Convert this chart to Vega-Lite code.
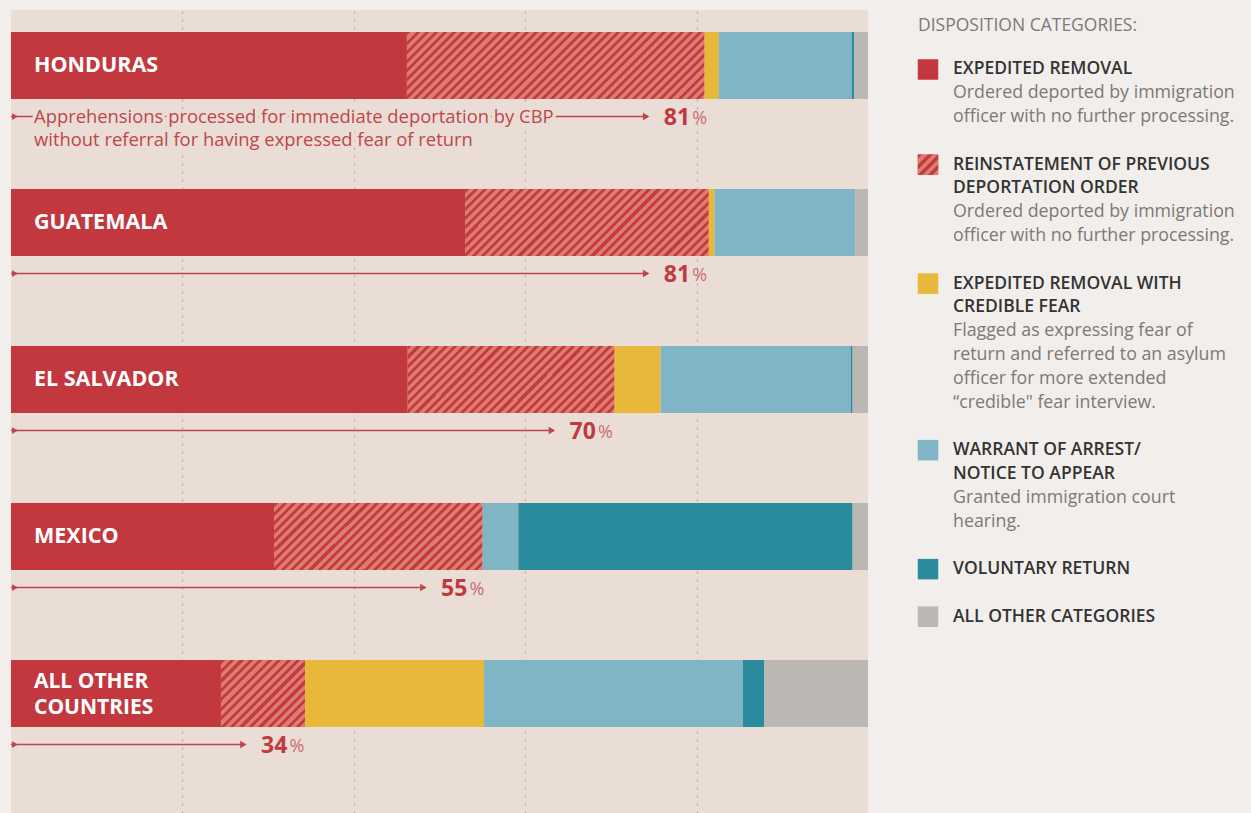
{
  "$schema": "https://vega.github.io/schema/vega-lite/v6.json",
  "background": "#f2eeeb",
  "padding": {"left": 10, "top": 10, "right": 0, "bottom": 0},
  "spacing": 13,
  "config": {"view": {"stroke": null}, "font": "Open Sans"},
  "datasets": {
    "bars": [
      {"country": "HONDURAS", "category": "Expedited removal", "pct": 46.2},
      {"country": "HONDURAS", "category": "Reinstatement", "pct": 34.7},
      {"country": "HONDURAS", "category": "Credible fear", "pct": 1.7},
      {"country": "HONDURAS", "category": "Warrant/NTA", "pct": 15.5},
      {"country": "HONDURAS", "category": "Voluntary return", "pct": 0.3},
      {"country": "HONDURAS", "category": "Other", "pct": 1.6},
      {"country": "GUATEMALA", "category": "Expedited removal", "pct": 53.0},
      {"country": "GUATEMALA", "category": "Reinstatement", "pct": 28.4},
      {"country": "GUATEMALA", "category": "Credible fear", "pct": 0.7},
      {"country": "GUATEMALA", "category": "Warrant/NTA", "pct": 16.4},
      {"country": "GUATEMALA", "category": "Other", "pct": 1.5},
      {"country": "EL SALVADOR", "category": "Expedited removal", "pct": 46.3},
      {"country": "EL SALVADOR", "category": "Reinstatement", "pct": 24.1},
      {"country": "EL SALVADOR", "category": "Credible fear", "pct": 5.4},
      {"country": "EL SALVADOR", "category": "Warrant/NTA", "pct": 22.2},
      {"country": "EL SALVADOR", "category": "Voluntary return", "pct": 0.2},
      {"country": "EL SALVADOR", "category": "Other", "pct": 1.8},
      {"country": "MEXICO", "category": "Expedited removal", "pct": 30.7},
      {"country": "MEXICO", "category": "Reinstatement", "pct": 24.3},
      {"country": "MEXICO", "category": "Warrant/NTA", "pct": 4.2},
      {"country": "MEXICO", "category": "Voluntary return", "pct": 39.0},
      {"country": "MEXICO", "category": "Other", "pct": 1.8},
      {"country": "ALL OTHER COUNTRIES", "category": "Expedited removal", "pct": 24.5},
      {"country": "ALL OTHER COUNTRIES", "category": "Reinstatement", "pct": 9.8},
      {"country": "ALL OTHER COUNTRIES", "category": "Credible fear", "pct": 20.9},
      {"country": "ALL OTHER COUNTRIES", "category": "Warrant/NTA", "pct": 30.2},
      {"country": "ALL OTHER COUNTRIES", "category": "Voluntary return", "pct": 2.5},
      {"country": "ALL OTHER COUNTRIES", "category": "Other", "pct": 12.1}
    ],
    "notes": [
      {"country": "HONDURAS", "label": "HONDURAS", "share": 81},
      {"country": "GUATEMALA", "label": "GUATEMALA", "share": 81},
      {"country": "EL SALVADOR", "label": "EL SALVADOR", "share": 70},
      {"country": "MEXICO", "label": "MEXICO", "share": 55},
      {"country": "ALL OTHER COUNTRIES", "label": "ALL OTHER\nCOUNTRIES", "share": 34}
    ],
    "legend": [
      {"line": -2, "kind": "header", "text": "DISPOSITION CATEGORIES:"},
      {"line": 0, "kind": "title", "text": "EXPEDITED REMOVAL", "category": "Expedited removal"},
      {"line": 1, "kind": "desc", "text": "Ordered deported by immigration"},
      {"line": 2, "kind": "desc", "text": "officer with no further processing."},
      {"line": 4, "kind": "title", "text": "REINSTATEMENT OF PREVIOUS", "category": "Reinstatement"},
      {"line": 5, "kind": "title", "text": "DEPORTATION ORDER"},
      {"line": 6, "kind": "desc", "text": "Ordered deported by immigration"},
      {"line": 7, "kind": "desc", "text": "officer with no further processing."},
      {"line": 9, "kind": "title", "text": "EXPEDITED REMOVAL WITH", "category": "Credible fear"},
      {"line": 10, "kind": "title", "text": "CREDIBLE FEAR"},
      {"line": 11, "kind": "desc", "text": "Flagged as expressing fear of"},
      {"line": 12, "kind": "desc", "text": "return and referred to an asylum"},
      {"line": 13, "kind": "desc", "text": "officer for more extended"},
      {"line": 14, "kind": "desc", "text": "“credible\" fear interview."},
      {"line": 16, "kind": "title", "text": "WARRANT OF ARREST/", "category": "Warrant/NTA"},
      {"line": 17, "kind": "title", "text": "NOTICE TO APPEAR"},
      {"line": 18, "kind": "desc", "text": "Granted immigration court"},
      {"line": 19, "kind": "desc", "text": "hearing."},
      {"line": 21, "kind": "title", "text": "VOLUNTARY RETURN", "category": "Voluntary return"},
      {"line": 23, "kind": "title", "text": "ALL OTHER CATEGORIES", "category": "Other"}
    ]
  },
  "hconcat": [
    {
      "width": 857,
      "height": 803,
      "view": {"fill": "#e9ddd6", "stroke": null},
      "encoding": {
        "y": {
          "field": "country", "type": "nominal",
          "scale": {"domain": ["HONDURAS", "GUATEMALA", "EL SALVADOR", "MEXICO", "ALL OTHER COUNTRIES"], "paddingInner": 0.5732, "paddingOuter": 0.3439, "align": 0.204},
          "axis": null
        }
      },
      "layer": [
        {
          "data": {"name": "bars"},
          "transform": [
            {"calculate": "indexof(['Expedited removal','Reinstatement','Credible fear','Warrant/NTA','Voluntary return','Other'], datum.category)", "as": "k"},
            {"stack": "pct", "groupby": ["country"], "sort": [{"field": "k", "order": "ascending"}], "as": ["x0", "x1"]}
          ],
          "layer": [
            {
              "mark": {"type": "rect"},
              "encoding": {
                "x": {"field": "x0", "type": "quantitative", "scale": {"domain": [0, 100], "nice": false},
                  "axis": {"values": [20, 40, 60, 80], "grid": true, "gridDash": [2, 6], "gridColor": "#b3a6a1", "gridWidth": 1.2, "labels": false, "ticks": false, "domain": false, "title": null}},
                "x2": {"field": "x1"},
                "fill": {"field": "category", "type": "nominal",
                  "scale": {"domain": ["Expedited removal", "Reinstatement", "Credible fear", "Warrant/NTA", "Voluntary return", "Other"], "range": ["#c3373f", "#d97a6c", "#e7b83a", "#80b5c6", "#2a8b9c", "#bbb7b2"]},
                  "legend": null}
              }
            },
            {
              "transform": [{"filter": "datum.category === 'Reinstatement' && datum.country === 'HONDURAS'"}],
              "mark": {"type": "rect", "fill": {"gradient": "linear", "x1": 0, "y1": 0, "x2": 1.1661, "y2": 0.2627, "stops": [
{"offset":0,"color":"#c63a40"},{"offset":0.011,"color":"#c63a40"},{"offset":0.011,"color":"#db7d6e"},{"offset":0.025,"color":"#db7d6e"},
{"offset":0.025,"color":"#c63a40"},{"offset":0.036,"color":"#c63a40"},{"offset":0.036,"color":"#db7d6e"},{"offset":0.05,"color":"#db7d6e"},
{"offset":0.05,"color":"#c63a40"},{"offset":0.061,"color":"#c63a40"},{"offset":0.061,"color":"#db7d6e"},{"offset":0.075,"color":"#db7d6e"},
{"offset":0.075,"color":"#c63a40"},{"offset":0.086,"color":"#c63a40"},{"offset":0.086,"color":"#db7d6e"},{"offset":0.1,"color":"#db7d6e"},
{"offset":0.1,"color":"#c63a40"},{"offset":0.111,"color":"#c63a40"},{"offset":0.111,"color":"#db7d6e"},{"offset":0.125,"color":"#db7d6e"},
{"offset":0.125,"color":"#c63a40"},{"offset":0.136,"color":"#c63a40"},{"offset":0.136,"color":"#db7d6e"},{"offset":0.15,"color":"#db7d6e"},
{"offset":0.15,"color":"#c63a40"},{"offset":0.161,"color":"#c63a40"},{"offset":0.161,"color":"#db7d6e"},{"offset":0.175,"color":"#db7d6e"},
{"offset":0.175,"color":"#c63a40"},{"offset":0.186,"color":"#c63a40"},{"offset":0.186,"color":"#db7d6e"},{"offset":0.2,"color":"#db7d6e"},
{"offset":0.2,"color":"#c63a40"},{"offset":0.211,"color":"#c63a40"},{"offset":0.211,"color":"#db7d6e"},{"offset":0.225,"color":"#db7d6e"},
{"offset":0.225,"color":"#c63a40"},{"offset":0.236,"color":"#c63a40"},{"offset":0.236,"color":"#db7d6e"},{"offset":0.25,"color":"#db7d6e"},
{"offset":0.25,"color":"#c63a40"},{"offset":0.261,"color":"#c63a40"},{"offset":0.261,"color":"#db7d6e"},{"offset":0.275,"color":"#db7d6e"},
{"offset":0.275,"color":"#c63a40"},{"offset":0.286,"color":"#c63a40"},{"offset":0.286,"color":"#db7d6e"},{"offset":0.3,"color":"#db7d6e"},
{"offset":0.3,"color":"#c63a40"},{"offset":0.311,"color":"#c63a40"},{"offset":0.311,"color":"#db7d6e"},{"offset":0.325,"color":"#db7d6e"},
{"offset":0.325,"color":"#c63a40"},{"offset":0.336,"color":"#c63a40"},{"offset":0.336,"color":"#db7d6e"},{"offset":0.35,"color":"#db7d6e"},
{"offset":0.35,"color":"#c63a40"},{"offset":0.361,"color":"#c63a40"},{"offset":0.361,"color":"#db7d6e"},{"offset":0.375,"color":"#db7d6e"},
{"offset":0.375,"color":"#c63a40"},{"offset":0.386,"color":"#c63a40"},{"offset":0.386,"color":"#db7d6e"},{"offset":0.4,"color":"#db7d6e"},
{"offset":0.4,"color":"#c63a40"},{"offset":0.411,"color":"#c63a40"},{"offset":0.411,"color":"#db7d6e"},{"offset":0.425,"color":"#db7d6e"},
{"offset":0.425,"color":"#c63a40"},{"offset":0.436,"color":"#c63a40"},{"offset":0.436,"color":"#db7d6e"},{"offset":0.45,"color":"#db7d6e"},
{"offset":0.45,"color":"#c63a40"},{"offset":0.461,"color":"#c63a40"},{"offset":0.461,"color":"#db7d6e"},{"offset":0.475,"color":"#db7d6e"},
{"offset":0.475,"color":"#c63a40"},{"offset":0.486,"color":"#c63a40"},{"offset":0.486,"color":"#db7d6e"},{"offset":0.5,"color":"#db7d6e"},
{"offset":0.5,"color":"#c63a40"},{"offset":0.511,"color":"#c63a40"},{"offset":0.511,"color":"#db7d6e"},{"offset":0.525,"color":"#db7d6e"},
{"offset":0.525,"color":"#c63a40"},{"offset":0.536,"color":"#c63a40"},{"offset":0.536,"color":"#db7d6e"},{"offset":0.55,"color":"#db7d6e"},
{"offset":0.55,"color":"#c63a40"},{"offset":0.561,"color":"#c63a40"},{"offset":0.561,"color":"#db7d6e"},{"offset":0.575,"color":"#db7d6e"},
{"offset":0.575,"color":"#c63a40"},{"offset":0.586,"color":"#c63a40"},{"offset":0.586,"color":"#db7d6e"},{"offset":0.6,"color":"#db7d6e"},
{"offset":0.6,"color":"#c63a40"},{"offset":0.611,"color":"#c63a40"},{"offset":0.611,"color":"#db7d6e"},{"offset":0.625,"color":"#db7d6e"},
{"offset":0.625,"color":"#c63a40"},{"offset":0.636,"color":"#c63a40"},{"offset":0.636,"color":"#db7d6e"},{"offset":0.65,"color":"#db7d6e"},
{"offset":0.65,"color":"#c63a40"},{"offset":0.661,"color":"#c63a40"},{"offset":0.661,"color":"#db7d6e"},{"offset":0.675,"color":"#db7d6e"},
{"offset":0.675,"color":"#c63a40"},{"offset":0.686,"color":"#c63a40"},{"offset":0.686,"color":"#db7d6e"},{"offset":0.7,"color":"#db7d6e"},
{"offset":0.7,"color":"#c63a40"},{"offset":0.711,"color":"#c63a40"},{"offset":0.711,"color":"#db7d6e"},{"offset":0.725,"color":"#db7d6e"},
{"offset":0.725,"color":"#c63a40"},{"offset":0.736,"color":"#c63a40"},{"offset":0.736,"color":"#db7d6e"},{"offset":0.75,"color":"#db7d6e"},
{"offset":0.75,"color":"#c63a40"},{"offset":0.761,"color":"#c63a40"},{"offset":0.761,"color":"#db7d6e"},{"offset":0.775,"color":"#db7d6e"},
{"offset":0.775,"color":"#c63a40"},{"offset":0.786,"color":"#c63a40"},{"offset":0.786,"color":"#db7d6e"},{"offset":0.8,"color":"#db7d6e"},
{"offset":0.8,"color":"#c63a40"},{"offset":0.811,"color":"#c63a40"},{"offset":0.811,"color":"#db7d6e"},{"offset":0.825,"color":"#db7d6e"},
{"offset":0.825,"color":"#c63a40"},{"offset":0.836,"color":"#c63a40"},{"offset":0.836,"color":"#db7d6e"},{"offset":0.85,"color":"#db7d6e"},
{"offset":0.85,"color":"#c63a40"},{"offset":0.861,"color":"#c63a40"},{"offset":0.861,"color":"#db7d6e"},{"offset":0.875,"color":"#db7d6e"},
{"offset":0.875,"color":"#c63a40"},{"offset":0.886,"color":"#c63a40"},{"offset":0.886,"color":"#db7d6e"},{"offset":0.9,"color":"#db7d6e"},
{"offset":0.9,"color":"#c63a40"},{"offset":0.911,"color":"#c63a40"},{"offset":0.911,"color":"#db7d6e"},{"offset":0.925,"color":"#db7d6e"},
{"offset":0.925,"color":"#c63a40"},{"offset":0.936,"color":"#c63a40"},{"offset":0.936,"color":"#db7d6e"},{"offset":0.95,"color":"#db7d6e"},
{"offset":0.95,"color":"#c63a40"},{"offset":0.961,"color":"#c63a40"},{"offset":0.961,"color":"#db7d6e"},{"offset":0.975,"color":"#db7d6e"},
{"offset":0.975,"color":"#c63a40"},{"offset":0.986,"color":"#c63a40"},{"offset":0.986,"color":"#db7d6e"},{"offset":1,"color":"#db7d6e"}
              ]}},
              "encoding": {
                "x": {"field": "x0", "type": "quantitative", "scale": {"domain": [0, 100], "nice": false},
                  "axis": {"values": [20, 40, 60, 80], "grid": true, "gridDash": [2, 6], "gridColor": "#b3a6a1", "gridWidth": 1.2, "labels": false, "ticks": false, "domain": false, "title": null}},
                "x2": {"field": "x1"}
              }
            },
            {
              "transform": [{"filter": "datum.category === 'Reinstatement' && datum.country === 'GUATEMALA'"}],
              "mark": {"type": "rect", "fill": {"gradient": "linear", "x1": 0, "y1": 0, "x2": 1.1854, "y2": 0.3263, "stops": [
{"offset":0,"color":"#c63a40"},{"offset":0.0132,"color":"#c63a40"},{"offset":0.0132,"color":"#db7d6e"},{"offset":0.0294,"color":"#db7d6e"},
{"offset":0.0294,"color":"#c63a40"},{"offset":0.0426,"color":"#c63a40"},{"offset":0.0426,"color":"#db7d6e"},{"offset":0.0588,"color":"#db7d6e"},
{"offset":0.0588,"color":"#c63a40"},{"offset":0.0721,"color":"#c63a40"},{"offset":0.0721,"color":"#db7d6e"},{"offset":0.0882,"color":"#db7d6e"},
{"offset":0.0882,"color":"#c63a40"},{"offset":0.1015,"color":"#c63a40"},{"offset":0.1015,"color":"#db7d6e"},{"offset":0.1176,"color":"#db7d6e"},
{"offset":0.1176,"color":"#c63a40"},{"offset":0.1309,"color":"#c63a40"},{"offset":0.1309,"color":"#db7d6e"},{"offset":0.1471,"color":"#db7d6e"},
{"offset":0.1471,"color":"#c63a40"},{"offset":0.1603,"color":"#c63a40"},{"offset":0.1603,"color":"#db7d6e"},{"offset":0.1765,"color":"#db7d6e"},
{"offset":0.1765,"color":"#c63a40"},{"offset":0.1897,"color":"#c63a40"},{"offset":0.1897,"color":"#db7d6e"},{"offset":0.2059,"color":"#db7d6e"},
{"offset":0.2059,"color":"#c63a40"},{"offset":0.2191,"color":"#c63a40"},{"offset":0.2191,"color":"#db7d6e"},{"offset":0.2353,"color":"#db7d6e"},
{"offset":0.2353,"color":"#c63a40"},{"offset":0.2485,"color":"#c63a40"},{"offset":0.2485,"color":"#db7d6e"},{"offset":0.2647,"color":"#db7d6e"},
{"offset":0.2647,"color":"#c63a40"},{"offset":0.2779,"color":"#c63a40"},{"offset":0.2779,"color":"#db7d6e"},{"offset":0.2941,"color":"#db7d6e"},
{"offset":0.2941,"color":"#c63a40"},{"offset":0.3074,"color":"#c63a40"},{"offset":0.3074,"color":"#db7d6e"},{"offset":0.3235,"color":"#db7d6e"},
{"offset":0.3235,"color":"#c63a40"},{"offset":0.3368,"color":"#c63a40"},{"offset":0.3368,"color":"#db7d6e"},{"offset":0.3529,"color":"#db7d6e"},
{"offset":0.3529,"color":"#c63a40"},{"offset":0.3662,"color":"#c63a40"},{"offset":0.3662,"color":"#db7d6e"},{"offset":0.3824,"color":"#db7d6e"},
{"offset":0.3824,"color":"#c63a40"},{"offset":0.3956,"color":"#c63a40"},{"offset":0.3956,"color":"#db7d6e"},{"offset":0.4118,"color":"#db7d6e"},
{"offset":0.4118,"color":"#c63a40"},{"offset":0.425,"color":"#c63a40"},{"offset":0.425,"color":"#db7d6e"},{"offset":0.4412,"color":"#db7d6e"},
{"offset":0.4412,"color":"#c63a40"},{"offset":0.4544,"color":"#c63a40"},{"offset":0.4544,"color":"#db7d6e"},{"offset":0.4706,"color":"#db7d6e"},
{"offset":0.4706,"color":"#c63a40"},{"offset":0.4838,"color":"#c63a40"},{"offset":0.4838,"color":"#db7d6e"},{"offset":0.5,"color":"#db7d6e"},
{"offset":0.5,"color":"#c63a40"},{"offset":0.5132,"color":"#c63a40"},{"offset":0.5132,"color":"#db7d6e"},{"offset":0.5294,"color":"#db7d6e"},
{"offset":0.5294,"color":"#c63a40"},{"offset":0.5426,"color":"#c63a40"},{"offset":0.5426,"color":"#db7d6e"},{"offset":0.5588,"color":"#db7d6e"},
{"offset":0.5588,"color":"#c63a40"},{"offset":0.5721,"color":"#c63a40"},{"offset":0.5721,"color":"#db7d6e"},{"offset":0.5882,"color":"#db7d6e"},
{"offset":0.5882,"color":"#c63a40"},{"offset":0.6015,"color":"#c63a40"},{"offset":0.6015,"color":"#db7d6e"},{"offset":0.6176,"color":"#db7d6e"},
{"offset":0.6176,"color":"#c63a40"},{"offset":0.6309,"color":"#c63a40"},{"offset":0.6309,"color":"#db7d6e"},{"offset":0.6471,"color":"#db7d6e"},
{"offset":0.6471,"color":"#c63a40"},{"offset":0.6603,"color":"#c63a40"},{"offset":0.6603,"color":"#db7d6e"},{"offset":0.6765,"color":"#db7d6e"},
{"offset":0.6765,"color":"#c63a40"},{"offset":0.6897,"color":"#c63a40"},{"offset":0.6897,"color":"#db7d6e"},{"offset":0.7059,"color":"#db7d6e"},
{"offset":0.7059,"color":"#c63a40"},{"offset":0.7191,"color":"#c63a40"},{"offset":0.7191,"color":"#db7d6e"},{"offset":0.7353,"color":"#db7d6e"},
{"offset":0.7353,"color":"#c63a40"},{"offset":0.7485,"color":"#c63a40"},{"offset":0.7485,"color":"#db7d6e"},{"offset":0.7647,"color":"#db7d6e"},
{"offset":0.7647,"color":"#c63a40"},{"offset":0.7779,"color":"#c63a40"},{"offset":0.7779,"color":"#db7d6e"},{"offset":0.7941,"color":"#db7d6e"},
{"offset":0.7941,"color":"#c63a40"},{"offset":0.8074,"color":"#c63a40"},{"offset":0.8074,"color":"#db7d6e"},{"offset":0.8235,"color":"#db7d6e"},
{"offset":0.8235,"color":"#c63a40"},{"offset":0.8368,"color":"#c63a40"},{"offset":0.8368,"color":"#db7d6e"},{"offset":0.8529,"color":"#db7d6e"},
{"offset":0.8529,"color":"#c63a40"},{"offset":0.8662,"color":"#c63a40"},{"offset":0.8662,"color":"#db7d6e"},{"offset":0.8824,"color":"#db7d6e"},
{"offset":0.8824,"color":"#c63a40"},{"offset":0.8956,"color":"#c63a40"},{"offset":0.8956,"color":"#db7d6e"},{"offset":0.9118,"color":"#db7d6e"},
{"offset":0.9118,"color":"#c63a40"},{"offset":0.925,"color":"#c63a40"},{"offset":0.925,"color":"#db7d6e"},{"offset":0.9412,"color":"#db7d6e"},
{"offset":0.9412,"color":"#c63a40"},{"offset":0.9544,"color":"#c63a40"},{"offset":0.9544,"color":"#db7d6e"},{"offset":0.9706,"color":"#db7d6e"},
{"offset":0.9706,"color":"#c63a40"},{"offset":0.9838,"color":"#c63a40"},{"offset":0.9838,"color":"#db7d6e"},{"offset":1,"color":"#db7d6e"}
              ]}},
              "encoding": {
                "x": {"field": "x0", "type": "quantitative", "scale": {"domain": [0, 100], "nice": false},
                  "axis": {"values": [20, 40, 60, 80], "grid": true, "gridDash": [2, 6], "gridColor": "#b3a6a1", "gridWidth": 1.2, "labels": false, "ticks": false, "domain": false, "title": null}},
                "x2": {"field": "x1"}
              }
            },
            {
              "transform": [{"filter": "datum.category === 'Reinstatement' && (datum.country === 'EL SALVADOR' || datum.country === 'MEXICO')"}],
              "mark": {"type": "rect", "fill": {"gradient": "linear", "x1": 0, "y1": 0, "x2": 1.198, "y2": 0.3871, "stops": [
{"offset":0,"color":"#c63a40"},{"offset":0.015,"color":"#c63a40"},{"offset":0.015,"color":"#db7d6e"},{"offset":0.0333,"color":"#db7d6e"},
{"offset":0.0333,"color":"#c63a40"},{"offset":0.0483,"color":"#c63a40"},{"offset":0.0483,"color":"#db7d6e"},{"offset":0.0667,"color":"#db7d6e"},
{"offset":0.0667,"color":"#c63a40"},{"offset":0.0817,"color":"#c63a40"},{"offset":0.0817,"color":"#db7d6e"},{"offset":0.1,"color":"#db7d6e"},
{"offset":0.1,"color":"#c63a40"},{"offset":0.115,"color":"#c63a40"},{"offset":0.115,"color":"#db7d6e"},{"offset":0.1333,"color":"#db7d6e"},
{"offset":0.1333,"color":"#c63a40"},{"offset":0.1483,"color":"#c63a40"},{"offset":0.1483,"color":"#db7d6e"},{"offset":0.1667,"color":"#db7d6e"},
{"offset":0.1667,"color":"#c63a40"},{"offset":0.1817,"color":"#c63a40"},{"offset":0.1817,"color":"#db7d6e"},{"offset":0.2,"color":"#db7d6e"},
{"offset":0.2,"color":"#c63a40"},{"offset":0.215,"color":"#c63a40"},{"offset":0.215,"color":"#db7d6e"},{"offset":0.2333,"color":"#db7d6e"},
{"offset":0.2333,"color":"#c63a40"},{"offset":0.2483,"color":"#c63a40"},{"offset":0.2483,"color":"#db7d6e"},{"offset":0.2667,"color":"#db7d6e"},
{"offset":0.2667,"color":"#c63a40"},{"offset":0.2817,"color":"#c63a40"},{"offset":0.2817,"color":"#db7d6e"},{"offset":0.3,"color":"#db7d6e"},
{"offset":0.3,"color":"#c63a40"},{"offset":0.315,"color":"#c63a40"},{"offset":0.315,"color":"#db7d6e"},{"offset":0.3333,"color":"#db7d6e"},
{"offset":0.3333,"color":"#c63a40"},{"offset":0.3483,"color":"#c63a40"},{"offset":0.3483,"color":"#db7d6e"},{"offset":0.3667,"color":"#db7d6e"},
{"offset":0.3667,"color":"#c63a40"},{"offset":0.3817,"color":"#c63a40"},{"offset":0.3817,"color":"#db7d6e"},{"offset":0.4,"color":"#db7d6e"},
{"offset":0.4,"color":"#c63a40"},{"offset":0.415,"color":"#c63a40"},{"offset":0.415,"color":"#db7d6e"},{"offset":0.4333,"color":"#db7d6e"},
{"offset":0.4333,"color":"#c63a40"},{"offset":0.4483,"color":"#c63a40"},{"offset":0.4483,"color":"#db7d6e"},{"offset":0.4667,"color":"#db7d6e"},
{"offset":0.4667,"color":"#c63a40"},{"offset":0.4817,"color":"#c63a40"},{"offset":0.4817,"color":"#db7d6e"},{"offset":0.5,"color":"#db7d6e"},
{"offset":0.5,"color":"#c63a40"},{"offset":0.515,"color":"#c63a40"},{"offset":0.515,"color":"#db7d6e"},{"offset":0.5333,"color":"#db7d6e"},
{"offset":0.5333,"color":"#c63a40"},{"offset":0.5483,"color":"#c63a40"},{"offset":0.5483,"color":"#db7d6e"},{"offset":0.5667,"color":"#db7d6e"},
{"offset":0.5667,"color":"#c63a40"},{"offset":0.5817,"color":"#c63a40"},{"offset":0.5817,"color":"#db7d6e"},{"offset":0.6,"color":"#db7d6e"},
{"offset":0.6,"color":"#c63a40"},{"offset":0.615,"color":"#c63a40"},{"offset":0.615,"color":"#db7d6e"},{"offset":0.6333,"color":"#db7d6e"},
{"offset":0.6333,"color":"#c63a40"},{"offset":0.6483,"color":"#c63a40"},{"offset":0.6483,"color":"#db7d6e"},{"offset":0.6667,"color":"#db7d6e"},
{"offset":0.6667,"color":"#c63a40"},{"offset":0.6817,"color":"#c63a40"},{"offset":0.6817,"color":"#db7d6e"},{"offset":0.7,"color":"#db7d6e"},
{"offset":0.7,"color":"#c63a40"},{"offset":0.715,"color":"#c63a40"},{"offset":0.715,"color":"#db7d6e"},{"offset":0.7333,"color":"#db7d6e"},
{"offset":0.7333,"color":"#c63a40"},{"offset":0.7483,"color":"#c63a40"},{"offset":0.7483,"color":"#db7d6e"},{"offset":0.7667,"color":"#db7d6e"},
{"offset":0.7667,"color":"#c63a40"},{"offset":0.7817,"color":"#c63a40"},{"offset":0.7817,"color":"#db7d6e"},{"offset":0.8,"color":"#db7d6e"},
{"offset":0.8,"color":"#c63a40"},{"offset":0.815,"color":"#c63a40"},{"offset":0.815,"color":"#db7d6e"},{"offset":0.8333,"color":"#db7d6e"},
{"offset":0.8333,"color":"#c63a40"},{"offset":0.8483,"color":"#c63a40"},{"offset":0.8483,"color":"#db7d6e"},{"offset":0.8667,"color":"#db7d6e"},
{"offset":0.8667,"color":"#c63a40"},{"offset":0.8817,"color":"#c63a40"},{"offset":0.8817,"color":"#db7d6e"},{"offset":0.9,"color":"#db7d6e"},
{"offset":0.9,"color":"#c63a40"},{"offset":0.915,"color":"#c63a40"},{"offset":0.915,"color":"#db7d6e"},{"offset":0.9333,"color":"#db7d6e"},
{"offset":0.9333,"color":"#c63a40"},{"offset":0.9483,"color":"#c63a40"},{"offset":0.9483,"color":"#db7d6e"},{"offset":0.9667,"color":"#db7d6e"},
{"offset":0.9667,"color":"#c63a40"},{"offset":0.9817,"color":"#c63a40"},{"offset":0.9817,"color":"#db7d6e"},{"offset":1,"color":"#db7d6e"}
              ]}},
              "encoding": {
                "x": {"field": "x0", "type": "quantitative", "scale": {"domain": [0, 100], "nice": false},
                  "axis": {"values": [20, 40, 60, 80], "grid": true, "gridDash": [2, 6], "gridColor": "#b3a6a1", "gridWidth": 1.2, "labels": false, "ticks": false, "domain": false, "title": null}},
                "x2": {"field": "x1"}
              }
            },
            {
              "transform": [{"filter": "datum.category === 'Reinstatement' && datum.country === 'ALL OTHER COUNTRIES'"}],
              "mark": {"type": "rect", "fill": {"gradient": "linear", "x1": 0, "y1": 0, "x2": 1.0987, "y2": 0.8763, "stops": [
{"offset":0,"color":"#c63a40"},{"offset":0.0281,"color":"#c63a40"},{"offset":0.0281,"color":"#db7d6e"},{"offset":0.0625,"color":"#db7d6e"},
{"offset":0.0625,"color":"#c63a40"},{"offset":0.0906,"color":"#c63a40"},{"offset":0.0906,"color":"#db7d6e"},{"offset":0.125,"color":"#db7d6e"},
{"offset":0.125,"color":"#c63a40"},{"offset":0.1531,"color":"#c63a40"},{"offset":0.1531,"color":"#db7d6e"},{"offset":0.1875,"color":"#db7d6e"},
{"offset":0.1875,"color":"#c63a40"},{"offset":0.2156,"color":"#c63a40"},{"offset":0.2156,"color":"#db7d6e"},{"offset":0.25,"color":"#db7d6e"},
{"offset":0.25,"color":"#c63a40"},{"offset":0.2781,"color":"#c63a40"},{"offset":0.2781,"color":"#db7d6e"},{"offset":0.3125,"color":"#db7d6e"},
{"offset":0.3125,"color":"#c63a40"},{"offset":0.3406,"color":"#c63a40"},{"offset":0.3406,"color":"#db7d6e"},{"offset":0.375,"color":"#db7d6e"},
{"offset":0.375,"color":"#c63a40"},{"offset":0.4031,"color":"#c63a40"},{"offset":0.4031,"color":"#db7d6e"},{"offset":0.4375,"color":"#db7d6e"},
{"offset":0.4375,"color":"#c63a40"},{"offset":0.4656,"color":"#c63a40"},{"offset":0.4656,"color":"#db7d6e"},{"offset":0.5,"color":"#db7d6e"},
{"offset":0.5,"color":"#c63a40"},{"offset":0.5281,"color":"#c63a40"},{"offset":0.5281,"color":"#db7d6e"},{"offset":0.5625,"color":"#db7d6e"},
{"offset":0.5625,"color":"#c63a40"},{"offset":0.5906,"color":"#c63a40"},{"offset":0.5906,"color":"#db7d6e"},{"offset":0.625,"color":"#db7d6e"},
{"offset":0.625,"color":"#c63a40"},{"offset":0.6531,"color":"#c63a40"},{"offset":0.6531,"color":"#db7d6e"},{"offset":0.6875,"color":"#db7d6e"},
{"offset":0.6875,"color":"#c63a40"},{"offset":0.7156,"color":"#c63a40"},{"offset":0.7156,"color":"#db7d6e"},{"offset":0.75,"color":"#db7d6e"},
{"offset":0.75,"color":"#c63a40"},{"offset":0.7781,"color":"#c63a40"},{"offset":0.7781,"color":"#db7d6e"},{"offset":0.8125,"color":"#db7d6e"},
{"offset":0.8125,"color":"#c63a40"},{"offset":0.8406,"color":"#c63a40"},{"offset":0.8406,"color":"#db7d6e"},{"offset":0.875,"color":"#db7d6e"},
{"offset":0.875,"color":"#c63a40"},{"offset":0.9031,"color":"#c63a40"},{"offset":0.9031,"color":"#db7d6e"},{"offset":0.9375,"color":"#db7d6e"},
{"offset":0.9375,"color":"#c63a40"},{"offset":0.9656,"color":"#c63a40"},{"offset":0.9656,"color":"#db7d6e"},{"offset":1,"color":"#db7d6e"}
              ]}},
              "encoding": {
                "x": {"field": "x0", "type": "quantitative", "scale": {"domain": [0, 100], "nice": false},
                  "axis": {"values": [20, 40, 60, 80], "grid": true, "gridDash": [2, 6], "gridColor": "#b3a6a1", "gridWidth": 1.2, "labels": false, "ticks": false, "domain": false, "title": null}},
                "x2": {"field": "x1"}
              }
            }
          ]
        },
        {
          "data": {"name": "notes"},
          "layer": [
            {
              "transform": [{"filter": "datum.country !== 'ALL OTHER COUNTRIES'"}],
              "mark": {"type": "text", "align": "left", "baseline": "middle", "x": 23, "fontSize": 21.5, "fontWeight": "bold", "fill": "#ffffff", "lineBreak": "\n", "lineHeight": 26},
              "encoding": {"text": {"field": "label"}}
            },
            {
              "transform": [{"filter": "datum.country === 'ALL OTHER COUNTRIES'"}],
              "mark": {"type": "text", "align": "left", "baseline": "middle", "x": 23, "dy": -11.5, "fontSize": 21, "fontWeight": "bold", "fill": "#ffffff", "lineBreak": "\n", "lineHeight": 26},
              "encoding": {"text": {"field": "label"}}
            },
            {
              "mark": {"type": "rule", "yOffset": 51, "xOffset": -57, "stroke": "#c0454a", "strokeWidth": 1.5},
              "encoding": {
                "x": {"field": "share", "type": "quantitative", "scale": {"domain": [0, 100], "nice": false},
                  "axis": {"values": [20, 40, 60, 80], "grid": true, "gridDash": [2, 6], "gridColor": "#b3a6a1", "gridWidth": 1.2, "labels": false, "ticks": false, "domain": false, "title": null}},
                "x2": {"value": 0}
              }
            },
            {
              "mark": {"type": "point", "shape": "triangle-right", "filled": true, "size": 45, "opacity": 1, "fill": "#c0454a", "x": 4, "yOffset": 51},
              "encoding": {}
            },
            {
              "mark": {"type": "point", "shape": "triangle-right", "filled": true, "size": 55, "opacity": 1, "fill": "#c0454a", "xOffset": -59, "yOffset": 51},
              "encoding": {
                "x": {"field": "share", "type": "quantitative", "scale": {"domain": [0, 100], "nice": false},
                  "axis": {"values": [20, 40, 60, 80], "grid": true, "gridDash": [2, 6], "gridColor": "#b3a6a1", "gridWidth": 1.2, "labels": false, "ticks": false, "domain": false, "title": null}}
              }
            },
            {
              "mark": {"type": "text", "align": "right", "baseline": "middle", "dx": -15, "yOffset": 52, "fontSize": 23, "fontWeight": "bold", "fill": "#c0393f"},
              "encoding": {
                "x": {"field": "share", "type": "quantitative", "scale": {"domain": [0, 100], "nice": false},
                  "axis": {"values": [20, 40, 60, 80], "grid": true, "gridDash": [2, 6], "gridColor": "#b3a6a1", "gridWidth": 1.2, "labels": false, "ticks": false, "domain": false, "title": null}},
                "text": {"field": "share", "type": "quantitative", "format": "d"}
              }
            },
            {
              "mark": {"type": "text", "align": "right", "baseline": "middle", "dx": 2, "yOffset": 53, "fontSize": 18, "fill": "#cc6e70"},
              "encoding": {
                "x": {"field": "share", "type": "quantitative", "scale": {"domain": [0, 100], "nice": false},
                  "axis": {"values": [20, 40, 60, 80], "grid": true, "gridDash": [2, 6], "gridColor": "#b3a6a1", "gridWidth": 1.2, "labels": false, "ticks": false, "domain": false, "title": null}},
                "text": {"value": "%"}
              }
            },
            {
              "transform": [{"filter": "datum.country === 'HONDURAS'"}],
              "mark": {"type": "text", "align": "left", "baseline": "middle", "x": 23, "yOffset": 51, "fontSize": 18.4, "lineHeight": 23, "fill": "#e9ddd6", "stroke": "#e9ddd6", "strokeWidth": 7, "strokeJoin": "round"},
              "encoding": {
                "text": {"value": ["Apprehensions processed for immediate deportation by CBP", "without referral for having expressed fear of return"]}
              }
            },
            {
              "transform": [{"filter": "datum.country === 'HONDURAS'"}],
              "mark": {"type": "text", "align": "left", "baseline": "middle", "x": 23, "yOffset": 51, "fontSize": 18.4, "lineHeight": 23, "fill": "#c0454a"},
              "encoding": {
                "text": {"value": ["Apprehensions processed for immediate deportation by CBP", "without referral for having expressed fear of return"]}
              }
            }
          ]
        }
      ]
    },
    {
      "width": 371,
      "height": 803,
      "data": {"name": "legend"},
      "encoding": {
        "y": {"field": "line", "type": "quantitative", "scale": {"domain": [-2.5, 31.25], "reverse": true, "nice": false, "zero": false}, "axis": null}
      },
      "layer": [
        {
          "transform": [{"filter": "datum.kind === 'header'"}],
          "mark": {"type": "text", "align": "left", "baseline": "middle", "x": 36, "dy": 4, "fontSize": 17.5, "fontWeight": 500, "fill": "#7d7977"},
          "encoding": {"text": {"field": "text"}}
        },
        {
          "transform": [{"filter": "datum.kind === 'title'"}],
          "mark": {"type": "text", "align": "left", "baseline": "middle", "x": 71, "fontSize": 17.5, "fontWeight": 600, "fill": "#333333"},
          "encoding": {"text": {"field": "text"}}
        },
        {
          "transform": [{"filter": "datum.kind === 'desc'"}],
          "mark": {"type": "text", "align": "left", "baseline": "middle", "x": 71, "fontSize": 17.8, "fill": "#7d7977"},
          "encoding": {"text": {"field": "text"}}
        },
        {
          "transform": [{"filter": "isValid(datum.category)"}],
          "mark": {"type": "point", "shape": "square", "filled": true, "size": 420, "opacity": 1, "x": 46},
          "encoding": {
            "fill": {"field": "category", "type": "nominal",
              "scale": {"domain": ["Expedited removal", "Reinstatement", "Credible fear", "Warrant/NTA", "Voluntary return", "Other"], "range": ["#c3373f", "#d97a6c", "#e7b83a", "#80b5c6", "#2a8b9c", "#bbb7b2"]},
              "legend": null}
          }
        },
        {
          "transform": [{"filter": "datum.category === 'Reinstatement'"}],
          "mark": {"type": "point", "shape": "square", "filled": true, "size": 420, "opacity": 1, "x": 46,
            "fill": {"gradient": "linear", "x1": 0, "y1": 0, "x2": 1, "y2": 1, "stops": [
              {"offset": 0, "color": "#c63a40"}, {"offset": 0.1125, "color": "#c63a40"}, {"offset": 0.1125, "color": "#db7d6e"}, {"offset": 0.25, "color": "#db7d6e"},
              {"offset": 0.25, "color": "#c63a40"}, {"offset": 0.3625, "color": "#c63a40"}, {"offset": 0.3625, "color": "#db7d6e"}, {"offset": 0.5, "color": "#db7d6e"},
              {"offset": 0.5, "color": "#c63a40"}, {"offset": 0.6125, "color": "#c63a40"}, {"offset": 0.6125, "color": "#db7d6e"}, {"offset": 0.75, "color": "#db7d6e"},
              {"offset": 0.75, "color": "#c63a40"}, {"offset": 0.8625, "color": "#c63a40"}, {"offset": 0.8625, "color": "#db7d6e"}, {"offset": 1, "color": "#db7d6e"}
            ]}},
          "encoding": {}
        }
      ]
    }
  ]
}
